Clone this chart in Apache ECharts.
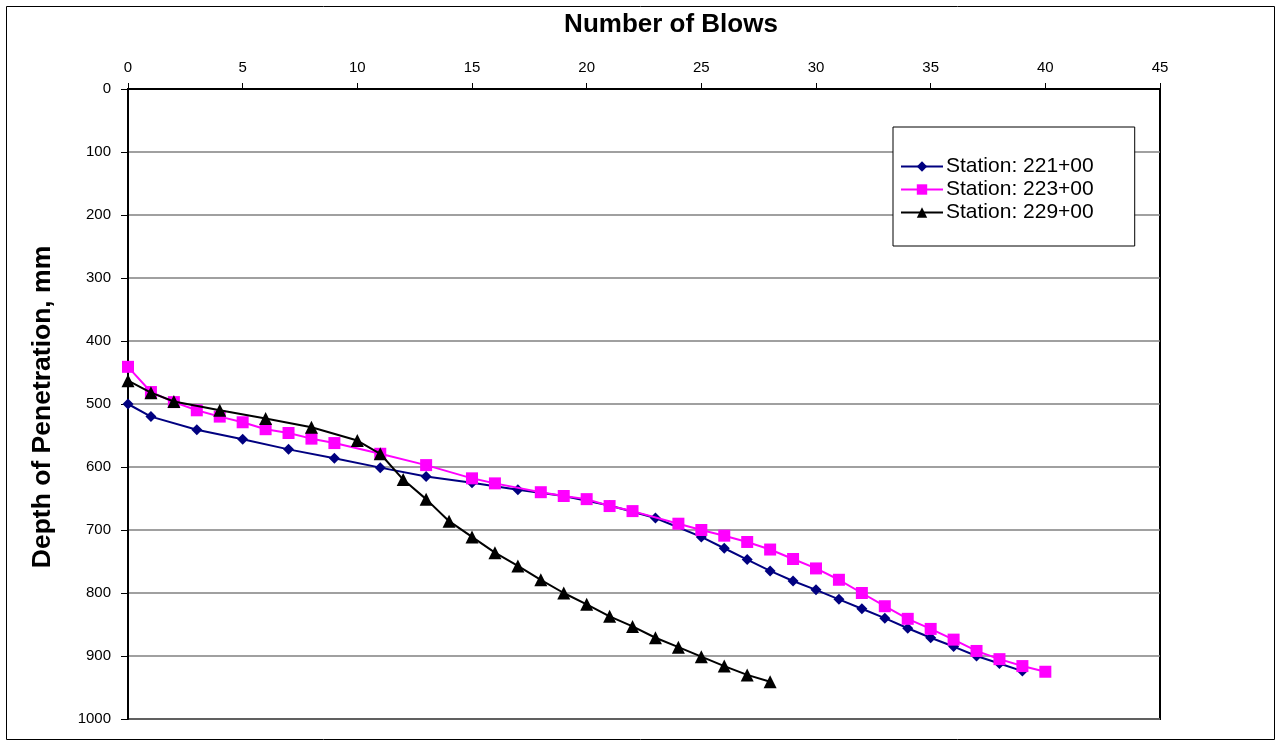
<!DOCTYPE html>
<html>
<head>
<meta charset="utf-8">
<script src="https://cdn.jsdelivr.net/npm/echarts@6/dist/echarts.min.js"></script>
<style>html,body{margin:0;padding:0;background:#fff}#c{width:1281px;height:746px}</style>
</head>
<body>
<div id="c"></div>
<script>
const xTicks = [0,5,10,15,20,25,30,35,40,45];
const yTicks = [0,100,200,300,400,500,600,700,800,900,1000];
const seriesNames = ['Station: 221+00','Station: 223+00','Station: 229+00'];

const blows221 = [0,1,3,5,7,9,11,13,15,17,19,21,23,25,26,27,28,29,30,31,32,33,34,35,36,37,38,39];
const depth221 = [500,520,541,556,572,586,601,615,625,636,646,661,681,711,729,747,765,781,795,810,825,840,856,871,885,900,912,924];

const blows223 = [0,1,2,3,4,5,6,7,8,9,11,13,15,16,18,19,20,21,22,24,25,26,27,28,29,30,31,32,33,34,35,36,37,38,39,40];
const depth223 = [441,481,497,510,520,529,540,546,555,562,579,597,618,626,640,646,651,662,670,690,700,709,719,731,746,761,779,800,821,841,857,874,892,905,916,925];

const blows229 = [0,1,2,4,6,8,10,11,12,13,14,15,16,17,18,19,20,21,22,23,24,25,26,27,28];
const depth229 = [463,482,496,510,523,537,558,579,620,651,686,711,736,757,779,800,818,837,853,871,886,901,916,930,941];

const zip = (a,b) => a.map((v,i)=>[v,b[i]]);
const chart = echarts.init(document.getElementById('c'));
const font = 'Arial, "Liberation Sans", sans-serif';
chart.setOption({
  animation:false,
  backgroundColor:'#fff',
  title:{text:'Number of Blows',left:666,top:7,textAlign:'center',
    textStyle:{fontFamily:font,fontSize:26,fontWeight:'bold',color:'#000'}},
  graphic:[
    {type:'rect',shape:{x:6.5,y:6.5,width:1268,height:733},style:{fill:'none',stroke:'#000',lineWidth:1},silent:true},
    {type:'text',x:43,y:407,rotation:Math.PI/2,
     style:{text:'Depth of Penetration, mm',fontFamily:font,fontSize:26.5,fontWeight:'bold',fill:'#000',
            align:'center',verticalAlign:'middle'}}
  ],
  legend:{
    orient:'vertical',left:893,top:127,
    padding:[29,41,23,7],itemGap:2,itemWidth:42,itemHeight:13,
    backgroundColor:'#fff',borderColor:'#000',borderWidth:1,
    textStyle:{fontFamily:font,fontSize:21,color:'#000',padding:[0,0,0,-2]},
    data:seriesNames
  },
  grid:{left:128,top:89,width:1032,height:630,show:true,borderColor:'#000',borderWidth:2,backgroundColor:'transparent'},
  xAxis:{type:'value',position:'top',min:0,max:45,interval:5,
    axisLine:{show:true,lineStyle:{color:'#000',width:2}},
    axisTick:{show:true,inside:false,length:6,lineStyle:{color:'#000'}},
    axisLabel:{fontFamily:font,fontSize:15,color:'#000',margin:14,formatter:v=>xTicks.includes(v)?String(v):''},
    splitLine:{show:false}},
  yAxis:{type:'value',inverse:true,min:0,max:1000,interval:100,
    axisLine:{show:true,lineStyle:{color:'#000',width:2}},
    axisTick:{show:true,inside:false,length:7,lineStyle:{color:'#000'}},
    axisLabel:{fontFamily:font,fontSize:15,color:'#000',margin:17,formatter:v=>yTicks.includes(v)?String(v):''},
    splitLine:{show:true,lineStyle:{color:'#808080',width:1.5}}},
  series:[
    {name:seriesNames[0],type:'line',data:zip(blows221,depth221),symbol:'diamond',symbolSize:11,
     lineStyle:{color:'#000080',width:2},itemStyle:{color:'#000080'},z:3},
    {name:seriesNames[1],type:'line',data:zip(blows223,depth223),symbol:'rect',symbolSize:12,
     lineStyle:{color:'#FF00FF',width:2},itemStyle:{color:'#FF00FF'},z:4},
    {name:seriesNames[2],type:'line',data:zip(blows229,depth229),symbol:'triangle',symbolSize:13,
     lineStyle:{color:'#000',width:2},itemStyle:{color:'#000'},z:5}
  ]
});
</script>
</body>
</html>
